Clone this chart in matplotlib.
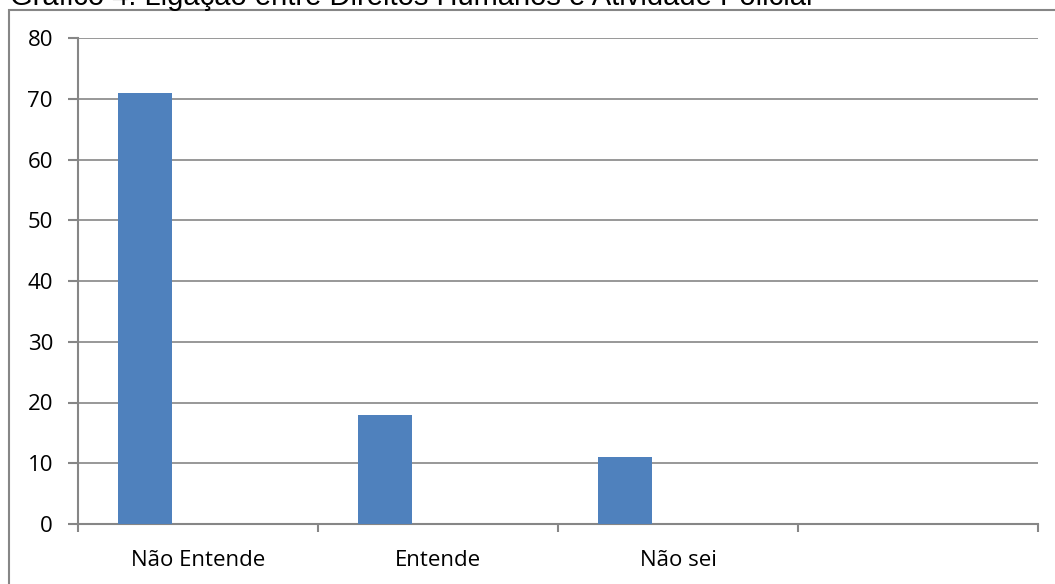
import numpy as np
import matplotlib.pyplot as plt
from matplotlib.patches import Rectangle

categories = ["Não Entende", "Entende", "Não sei", ""]
values = [71, 18, 11, 0]
yticks = [0, 10, 20, 30, 40, 50, 60, 70, 80]

GRAY = "#868686"
BLUE = "#4f81bd"

fig = plt.figure(figsize=(10.55, 5.84), dpi=100)
plt.rcParams["font.family"] = ["Open Sans", "DejaVu Sans"]

# outer chart frame (left/top visible, rest runs off the image)
fig.patches.append(Rectangle((9 / 1055, -0.05), 1.2, 1.05 - 10 / 584,
                             transform=fig.transFigure, fill=False,
                             edgecolor=GRAY, linewidth=1.5, zorder=0))

# title, mostly cropped off at the top
fig.text(10 / 1055, 1 - 5 / 584, "Gráfico 4: Ligação entre Direitos Humanos e Atividade Policial",
         fontsize=21, family="Liberation Sans", va="baseline", ha="left")

ax = fig.add_axes([78 / 1055, 1 - 524 / 584, (1038 - 78) / 1055, (524 - 38) / 584])
x = np.arange(len(categories))
ax.bar(x - 0.22, values, width=0.225, color=BLUE, zorder=3)

ax.set_xlim(-0.5, len(categories) - 0.5)
ax.set_ylim(0, 80)
ax.set_yticks(yticks)
ax.set_xticks(x)
ax.set_xticklabels(categories, fontsize=16)
ax.set_xticks(np.arange(len(categories) + 1) - 0.5, minor=True)
ax.tick_params(axis="x", which="major", length=0, pad=19)
ax.tick_params(axis="x", which="minor", length=6, color=GRAY, width=1.5, direction="out")
ax.tick_params(axis="y", length=7, color=GRAY, width=1.5, labelsize=16, pad=11)

ax.grid(axis="y", color=GRAY, linewidth=1.2, zorder=0)
ax.set_axisbelow(True)
for s in ["top", "right"]:
    ax.spines[s].set_visible(False)
for s in ["left", "bottom"]:
    ax.spines[s].set_color(GRAY)
    ax.spines[s].set_linewidth(1.5)

plt.savefig("out.png", dpi=100)
